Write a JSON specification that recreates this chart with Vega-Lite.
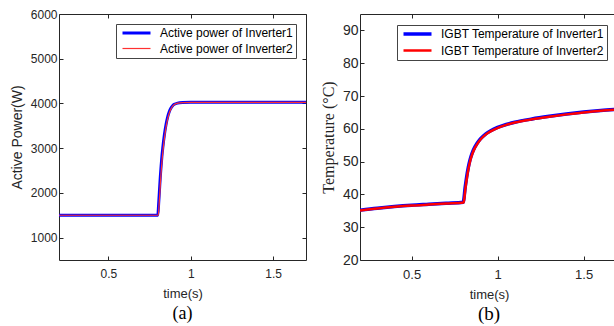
{
  "$schema": "https://vega.github.io/schema/vega-lite/v6.json",
  "background": "white",
  "padding": {"left": 9, "top": 7, "right": 0, "bottom": 0},
  "spacing": 12,
  "config": {
    "view": {"stroke": "#262626", "strokeWidth": 1},
    "axis": {
      "grid": false,
      "domain": false,
      "labelFont": "Liberation Sans",
      "labelColor": "#262626",
      "titleFont": "Liberation Sans",
      "titleFontWeight": "normal",
      "titleColor": "#262626",
      "tickColor": "#262626",
      "tickSize": -4,
      "labelPadding": 6
    },
    "legend": {
      "labelFont": "Liberation Sans",
      "labelFontSize": 12,
      "labelColor": "black",
      "labelLimit": 400,
      "strokeColor": "#444444",
      "fillColor": "white",
      "padding": 3,
      "symbolType": "M-1,0H10.2",
      "symbolSize": 25,
      "labelOffset": 29,
      "rowPadding": 3.5
    }
  },
  "datasets": {
    "power": [
      {"t": 0.2, "P": 1500, "series": "Active power of Inverter1"},
      {"t": 0.8, "P": 1500, "series": "Active power of Inverter1"},
      {"t": 0.805, "P": 1750, "series": "Active power of Inverter1"},
      {"t": 0.81, "P": 2050, "series": "Active power of Inverter1"},
      {"t": 0.815, "P": 2350, "series": "Active power of Inverter1"},
      {"t": 0.82, "P": 2600, "series": "Active power of Inverter1"},
      {"t": 0.825, "P": 2820, "series": "Active power of Inverter1"},
      {"t": 0.83, "P": 3000, "series": "Active power of Inverter1"},
      {"t": 0.835, "P": 3160, "series": "Active power of Inverter1"},
      {"t": 0.84, "P": 3300, "series": "Active power of Inverter1"},
      {"t": 0.85, "P": 3530, "series": "Active power of Inverter1"},
      {"t": 0.86, "P": 3700, "series": "Active power of Inverter1"},
      {"t": 0.87, "P": 3820, "series": "Active power of Inverter1"},
      {"t": 0.88, "P": 3900, "series": "Active power of Inverter1"},
      {"t": 0.89, "P": 3950, "series": "Active power of Inverter1"},
      {"t": 0.9, "P": 3980, "series": "Active power of Inverter1"},
      {"t": 0.92, "P": 4008, "series": "Active power of Inverter1"},
      {"t": 0.95, "P": 4020, "series": "Active power of Inverter1"},
      {"t": 1.0, "P": 4025, "series": "Active power of Inverter1"},
      {"t": 1.7, "P": 4025, "series": "Active power of Inverter1"},
      {"t": 0.2, "P": 1500, "series": "Active power of Inverter2"},
      {"t": 0.803, "P": 1500, "series": "Active power of Inverter2"},
      {"t": 0.808, "P": 1750, "series": "Active power of Inverter2"},
      {"t": 0.813, "P": 2050, "series": "Active power of Inverter2"},
      {"t": 0.818, "P": 2350, "series": "Active power of Inverter2"},
      {"t": 0.823, "P": 2600, "series": "Active power of Inverter2"},
      {"t": 0.828, "P": 2820, "series": "Active power of Inverter2"},
      {"t": 0.833, "P": 3000, "series": "Active power of Inverter2"},
      {"t": 0.838, "P": 3160, "series": "Active power of Inverter2"},
      {"t": 0.843, "P": 3300, "series": "Active power of Inverter2"},
      {"t": 0.853, "P": 3530, "series": "Active power of Inverter2"},
      {"t": 0.863, "P": 3700, "series": "Active power of Inverter2"},
      {"t": 0.873, "P": 3820, "series": "Active power of Inverter2"},
      {"t": 0.883, "P": 3900, "series": "Active power of Inverter2"},
      {"t": 0.893, "P": 3950, "series": "Active power of Inverter2"},
      {"t": 0.903, "P": 3980, "series": "Active power of Inverter2"},
      {"t": 0.923, "P": 4008, "series": "Active power of Inverter2"},
      {"t": 0.953, "P": 4020, "series": "Active power of Inverter2"},
      {"t": 1.003, "P": 4025, "series": "Active power of Inverter2"},
      {"t": 1.7, "P": 4025, "series": "Active power of Inverter2"}
    ],
    "temp": [
      {"t": 0.2, "T": 35.2, "series": "IGBT Temperature of Inverter1"},
      {"t": 0.3, "T": 35.8, "series": "IGBT Temperature of Inverter1"},
      {"t": 0.4, "T": 36.3, "series": "IGBT Temperature of Inverter1"},
      {"t": 0.5, "T": 36.7, "series": "IGBT Temperature of Inverter1"},
      {"t": 0.6, "T": 37.0, "series": "IGBT Temperature of Inverter1"},
      {"t": 0.7, "T": 37.3, "series": "IGBT Temperature of Inverter1"},
      {"t": 0.8, "T": 37.6, "series": "IGBT Temperature of Inverter1"},
      {"t": 0.805, "T": 39.0, "series": "IGBT Temperature of Inverter1"},
      {"t": 0.81, "T": 41.5, "series": "IGBT Temperature of Inverter1"},
      {"t": 0.815, "T": 43.5, "series": "IGBT Temperature of Inverter1"},
      {"t": 0.82, "T": 45.3, "series": "IGBT Temperature of Inverter1"},
      {"t": 0.83, "T": 48.3, "series": "IGBT Temperature of Inverter1"},
      {"t": 0.84, "T": 50.6, "series": "IGBT Temperature of Inverter1"},
      {"t": 0.85, "T": 52.3, "series": "IGBT Temperature of Inverter1"},
      {"t": 0.86, "T": 53.6, "series": "IGBT Temperature of Inverter1"},
      {"t": 0.88, "T": 55.5, "series": "IGBT Temperature of Inverter1"},
      {"t": 0.9, "T": 56.9, "series": "IGBT Temperature of Inverter1"},
      {"t": 0.93, "T": 58.4, "series": "IGBT Temperature of Inverter1"},
      {"t": 0.96, "T": 59.4, "series": "IGBT Temperature of Inverter1"},
      {"t": 1.0, "T": 60.4, "series": "IGBT Temperature of Inverter1"},
      {"t": 1.05, "T": 61.3, "series": "IGBT Temperature of Inverter1"},
      {"t": 1.1, "T": 62.0, "series": "IGBT Temperature of Inverter1"},
      {"t": 1.2, "T": 63.0, "series": "IGBT Temperature of Inverter1"},
      {"t": 1.3, "T": 63.8, "series": "IGBT Temperature of Inverter1"},
      {"t": 1.4, "T": 64.5, "series": "IGBT Temperature of Inverter1"},
      {"t": 1.5, "T": 65.1, "series": "IGBT Temperature of Inverter1"},
      {"t": 1.6, "T": 65.6, "series": "IGBT Temperature of Inverter1"},
      {"t": 1.7, "T": 66.0, "series": "IGBT Temperature of Inverter1"},
      {"t": 0.2, "T": 35.1, "series": "IGBT Temperature of Inverter2"},
      {"t": 0.3, "T": 35.7, "series": "IGBT Temperature of Inverter2"},
      {"t": 0.4, "T": 36.2, "series": "IGBT Temperature of Inverter2"},
      {"t": 0.5, "T": 36.6, "series": "IGBT Temperature of Inverter2"},
      {"t": 0.6, "T": 36.9, "series": "IGBT Temperature of Inverter2"},
      {"t": 0.7, "T": 37.2, "series": "IGBT Temperature of Inverter2"},
      {"t": 0.802, "T": 37.5, "series": "IGBT Temperature of Inverter2"},
      {"t": 0.807, "T": 38.9, "series": "IGBT Temperature of Inverter2"},
      {"t": 0.812, "T": 41.4, "series": "IGBT Temperature of Inverter2"},
      {"t": 0.817, "T": 43.4, "series": "IGBT Temperature of Inverter2"},
      {"t": 0.822, "T": 45.2, "series": "IGBT Temperature of Inverter2"},
      {"t": 0.832, "T": 48.2, "series": "IGBT Temperature of Inverter2"},
      {"t": 0.842, "T": 50.5, "series": "IGBT Temperature of Inverter2"},
      {"t": 0.852, "T": 52.2, "series": "IGBT Temperature of Inverter2"},
      {"t": 0.862, "T": 53.5, "series": "IGBT Temperature of Inverter2"},
      {"t": 0.882, "T": 55.4, "series": "IGBT Temperature of Inverter2"},
      {"t": 0.902, "T": 56.8, "series": "IGBT Temperature of Inverter2"},
      {"t": 0.932, "T": 58.3, "series": "IGBT Temperature of Inverter2"},
      {"t": 0.962, "T": 59.3, "series": "IGBT Temperature of Inverter2"},
      {"t": 1.002, "T": 60.3, "series": "IGBT Temperature of Inverter2"},
      {"t": 1.05, "T": 61.2, "series": "IGBT Temperature of Inverter2"},
      {"t": 1.1, "T": 61.9, "series": "IGBT Temperature of Inverter2"},
      {"t": 1.2, "T": 62.9, "series": "IGBT Temperature of Inverter2"},
      {"t": 1.3, "T": 63.7, "series": "IGBT Temperature of Inverter2"},
      {"t": 1.4, "T": 64.4, "series": "IGBT Temperature of Inverter2"},
      {"t": 1.5, "T": 65.0, "series": "IGBT Temperature of Inverter2"},
      {"t": 1.6, "T": 65.5, "series": "IGBT Temperature of Inverter2"},
      {"t": 1.7, "T": 65.9, "series": "IGBT Temperature of Inverter2"}
    ]
  },
  "hconcat": [
    {
      "width": 247,
      "height": 246,
      "title": {"text": "(a)", "orient": "bottom", "font": "Liberation Serif", "fontSize": 18, "fontWeight": "normal", "color": "black", "offset": 5},
      "data": {"name": "power"},
      "layer": [
        {
          "mark": {"type": "line", "clip": true, "interpolate": "monotone"},
          "encoding": {
            "x": {"field": "t", "type": "quantitative", "scale": {"domain": [0.2, 1.7], "nice": false, "zero": false},
                  "axis": {"values": [0.5, 1, 1.5], "format": ".1~f", "title": "time(s)", "labelFontSize": 12, "labelPadding": 12, "titleFontSize": 13, "titlePadding": 8}},
            "y": {"field": "P", "type": "quantitative", "scale": {"domain": [500, 6000], "nice": false, "zero": false},
                  "axis": {"values": [1000, 2000, 3000, 4000, 5000, 6000], "format": "d", "title": "Active Power(W)", "labelFontSize": 12, "titleFontSize": 14, "titlePadding": 6}},
            "color": {"field": "series", "type": "nominal",
                      "scale": {"domain": ["Active power of Inverter1", "Active power of Inverter2"], "range": ["#0000ff", "#ff3030"]},
                      "legend": {"orient": "top-right", "offset": 10, "title": null}},
            "strokeWidth": {"field": "series", "type": "nominal",
                      "scale": {"type": "ordinal", "domain": ["Active power of Inverter1", "Active power of Inverter2"], "range": [3, 1.2]},
                      "legend": {"orient": "top-right", "offset": 10, "title": null}}
          }
        },
        {
          "mark": {"type": "line", "opacity": 0},
          "encoding": {
            "x": {"field": "t", "type": "quantitative", "axis": {"orient": "top", "values": [0.5, 1, 1.5], "labels": false, "title": null}},
            "y": {"field": "P", "type": "quantitative", "axis": {"orient": "right", "values": [1000, 2000, 3000, 4000, 5000, 6000], "labels": false, "title": null}}
          }
        }
      ],
      "resolve": {"axis": {"x": "independent", "y": "independent"}}
    },
    {
      "width": 258,
      "height": 246,
      "title": {"text": "(b)", "orient": "bottom", "font": "Liberation Serif", "fontSize": 19, "fontWeight": "normal", "color": "black", "offset": 4},
      "data": {"name": "temp"},
      "layer": [
        {
          "mark": {"type": "line", "clip": true, "interpolate": "monotone"},
          "encoding": {
            "x": {"field": "t", "type": "quantitative", "scale": {"domain": [0.2, 1.7], "nice": false, "zero": false},
                  "axis": {"values": [0.5, 1, 1.5], "format": ".1~f", "title": "time(s)", "labelFontSize": 13, "labelPadding": 12, "titleFontSize": 13, "titlePadding": 7}},
            "y": {"field": "T", "type": "quantitative", "scale": {"domain": [20, 95], "nice": false, "zero": false},
                  "axis": {"values": [20, 30, 40, 50, 60, 70, 80, 90], "format": "d", "title": "Temperature (°C)", "titleFont": "Liberation Serif", "labelFontSize": 14, "titleFontSize": 16, "titlePadding": 6}},
            "color": {"field": "series", "type": "nominal",
                      "scale": {"domain": ["IGBT Temperature of Inverter1", "IGBT Temperature of Inverter2"], "range": ["#0000ff", "#ff0000"]},
                      "legend": {"orient": "top-right", "offset": 11, "title": null}},
            "strokeWidth": {"field": "series", "type": "nominal",
                      "scale": {"type": "ordinal", "domain": ["IGBT Temperature of Inverter1", "IGBT Temperature of Inverter2"], "range": [3.5, 2.5]},
                      "legend": {"orient": "top-right", "offset": 11, "title": null}}
          }
        },
        {
          "mark": {"type": "line", "opacity": 0},
          "encoding": {
            "x": {"field": "t", "type": "quantitative", "axis": {"orient": "top", "values": [0.5, 1, 1.5], "labels": false, "title": null}},
            "y": {"field": "T", "type": "quantitative", "axis": {"orient": "right", "values": [20, 30, 40, 50, 60, 70, 80, 90], "labels": false, "title": null}}
          }
        }
      ],
      "resolve": {"axis": {"x": "independent", "y": "independent"}}
    }
  ],
  "resolve": {"scale": {"color": "independent", "strokeWidth": "independent"}, "legend": {"color": "independent", "strokeWidth": "independent"}}
}
